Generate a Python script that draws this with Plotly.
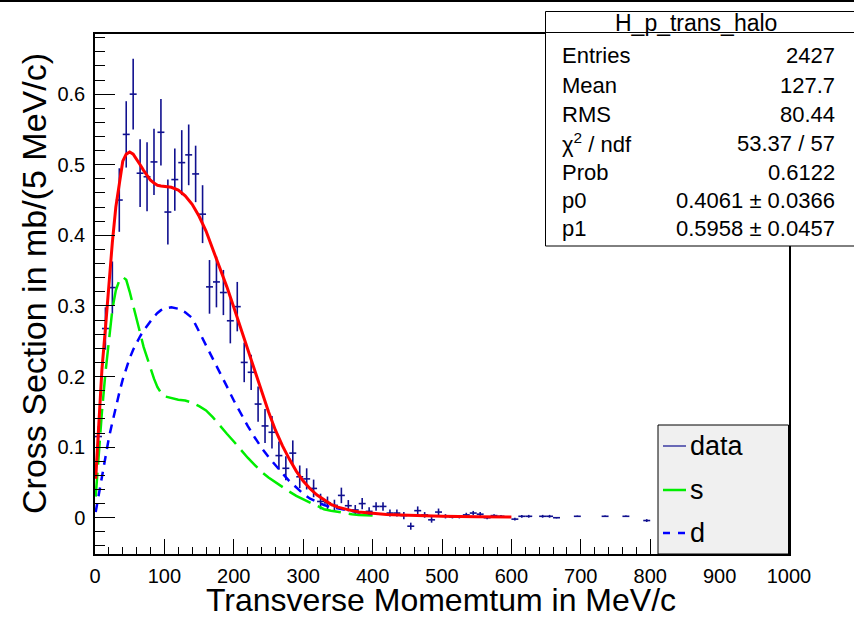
import plotly.graph_objects as go

# ---- histogram H_p_trans_halo (10 MeV/c bins, non-empty bins only) ----
bin_centers = [5, 15, 25, 35, 45, 55, 65, 75, 85, 95, 105, 115, 125, 135, 145,
               155, 165, 175, 185, 195, 205, 215, 225, 235, 245, 255, 265, 275,
               285, 295, 305, 315, 325, 335, 345, 355, 365, 375, 385, 395, 405,
               415, 425, 435, 445, 455, 465, 475, 485, 495, 505, 515, 525, 535,
               545, 555, 565, 575, 585, 605, 615, 625, 645, 655, 665, 695, 735,
               765, 795]
bin_values = [0.115, 0.268, 0.326, 0.450, 0.543, 0.600, 0.488, 0.483, 0.504,
              0.546, 0.433, 0.479, 0.503, 0.514, 0.487, 0.430, 0.327, 0.334,
              0.319, 0.279, 0.299, 0.220, 0.206, 0.161, 0.130, 0.121, 0.088,
              0.070, 0.0915, 0.058, 0.055, 0.0415, 0.023, 0.021, 0.0175, 0.0316,
              0.017, 0.011, 0.020, 0.009, 0.016, 0.016, 0.0066, 0.0066, 0.003,
              -0.012, 0.010, 0.004, -0.003, 0.008, 0.002, 0.001, 0.001, 0.004,
              0.0066, 0.005, 0.0, 0.003, 0.002, -0.002, 0.002, 0.002, 0.002,
              0.002, 0.0, 0.002, 0.002, 0.002, -0.004]
bin_errors = [0.015, 0.030, 0.037, 0.045, 0.047, 0.050, 0.048, 0.049, 0.047,
              0.047, 0.046, 0.044, 0.046, 0.043, 0.040, 0.041, 0.038, 0.036,
              0.032, 0.032, 0.035, 0.028, 0.025, 0.025, 0.024, 0.023, 0.020,
              0.017, 0.018, 0.016, 0.015, 0.0125, 0.011, 0.009, 0.008, 0.011,
              0.008, 0.007, 0.008, 0.006, 0.006, 0.006, 0.005, 0.005, 0.005,
              0.005, 0.006, 0.004, 0.004, 0.005, 0.003, 0.002, 0.002, 0.003,
              0.003, 0.003, 0.002, 0.002, 0.002, 0.002, 0.002, 0.002, 0.002,
              0.002, 0.001, 0.001, 0.001, 0.001, 0.002]
bin_half_width = [5] * len(bin_centers)

# ---- fit function (total) ----
fit_x = [1, 5, 10, 15, 20, 25, 30, 35, 40, 45, 50, 55, 60, 65, 70, 75, 80, 85,
         90, 95, 100, 110, 120, 130, 140, 150, 160, 170, 180, 190, 200, 210,
         220, 230, 240, 250, 260, 270, 280, 290, 300, 310, 320, 330, 340, 350,
         360, 370, 380, 400, 420, 440, 460, 480, 500, 550, 600]
fit_y = [0.055, 0.13, 0.21, 0.268, 0.33, 0.39, 0.44, 0.476, 0.505, 0.515,
         0.518, 0.515, 0.508, 0.500, 0.492, 0.484, 0.478, 0.474, 0.471, 0.470,
         0.469, 0.468, 0.464, 0.456, 0.444, 0.427, 0.406, 0.380, 0.352, 0.327,
         0.298, 0.268, 0.238, 0.207, 0.178, 0.150, 0.124, 0.102, 0.083, 0.066,
         0.052, 0.041, 0.032, 0.025, 0.019, 0.015, 0.012, 0.010, 0.008, 0.006,
         0.0045, 0.0037, 0.003, 0.0028, 0.002, 0.0015, 0.001]

# ---- components s and d ----
comp_x = [1, 5, 10, 15, 20, 25, 30, 35, 40, 45, 50, 55, 60, 65, 70, 75, 80, 85,
          90, 95, 100, 110, 120, 130, 140, 150, 160, 170, 180, 190, 200, 210,
          220, 230, 240, 250, 260, 270, 280, 290, 300, 310, 320, 330, 340, 350,
          360, 370, 380, 390, 400]
s_y = [0.03, 0.085, 0.15, 0.205, 0.255, 0.295, 0.322, 0.336, 0.341, 0.337,
       0.320, 0.302, 0.282, 0.262, 0.242, 0.226, 0.212, 0.197, 0.185, 0.177,
       0.172, 0.169, 0.167, 0.166, 0.163, 0.158, 0.152, 0.142, 0.130, 0.119,
       0.108, 0.096, 0.085, 0.075, 0.065, 0.057, 0.050, 0.044, 0.037, 0.031,
       0.026, 0.021, 0.016, 0.012, 0.010, 0.008, 0.0065, 0.005, 0.004, 0.0035,
       0.003]
d_y = [0.008, 0.03, 0.062, 0.09, 0.113, 0.135, 0.157, 0.177, 0.196, 0.212,
       0.226, 0.238, 0.248, 0.257, 0.265, 0.272, 0.279, 0.285, 0.290, 0.294,
       0.296, 0.298, 0.296, 0.291, 0.283, 0.264, 0.245, 0.226, 0.206, 0.186,
       0.166, 0.147, 0.130, 0.114, 0.099, 0.086, 0.074, 0.063, 0.052, 0.043,
       0.034, 0.027, 0.022, 0.018, 0.015, 0.013, 0.011, 0.009, 0.0075, 0.0065,
       0.0055]

stats_labels = ["Entries", "Mean", "RMS", "χ<sup>2</sup> / ndf", "Prob", "p0", "p1"]
stats_values = ["2427", "127.7", "80.44", "53.37 / 57", "0.6122",
                "0.4061 ± 0.0366", "0.5958 ± 0.0457"]
legend_labels = ["data", "s", "d"]
x_title = "Transverse Momemtum in MeV/c"
y_title = "Cross Section in mb/(5 MeV/c)"

FONT = "Liberation Sans, Arial, Helvetica, sans-serif"
DATA_COLOR = "#10108f"

# frame geometry in canvas pixels
W, H = 854, 617
L, R, T, B = 95, 789, 34, 554


def px(x):
    return (x - L) / (R - L)


def py(y):
    return (B - y) / (B - T)


fig = go.Figure()

fig.add_trace(go.Scatter(
    x=bin_centers, y=bin_values, mode="markers",
    marker=dict(size=1, color="rgba(0,0,0,0)"),
    error_y=dict(type="data", array=bin_errors, color=DATA_COLOR,
                 thickness=1.6, width=0),
    error_x=dict(type="data", array=bin_half_width, color=DATA_COLOR,
                 thickness=1.6, width=0),
    showlegend=False, hoverinfo="skip"))

fig.add_trace(go.Scatter(
    x=comp_x, y=s_y, mode="lines",
    line=dict(color="#00ee00", width=2.5, dash="24px,8px"),
    showlegend=False))
fig.add_trace(go.Scatter(
    x=comp_x, y=d_y, mode="lines",
    line=dict(color="#0000ff", width=2.5, dash="9px,7px"),
    showlegend=False))
fig.add_trace(go.Scatter(
    x=fit_x, y=fit_y, mode="lines", line=dict(color="#ff0000", width=3),
    showlegend=False))

shapes = []
annotations = []

# pad border line along the top
shapes.append(dict(type="line", xref="paper", yref="paper",
                   x0=px(-5), x1=px(W + 5), y0=py(1), y1=py(1),
                   line=dict(color="black", width=2)))

# axis titles
annotations.append(dict(xref="paper", yref="paper", x=px(441), y=py(600),
                        text=x_title, showarrow=False, xanchor="center",
                        yanchor="middle", borderpad=0,
                        font=dict(family=FONT, size=32, color="black")))
annotations.append(dict(xref="paper", yref="paper", x=px(34), y=py(284),
                        text=y_title, showarrow=False, textangle=-90,
                        xanchor="center", yanchor="middle",
                        font=dict(family=FONT, size=34, color="black")))

# statistics box
sb_l, sb_r, sb_t, sb_b, sb_sep = 545.5, 862, 11.5, 246, 32.5
shapes.append(dict(type="rect", xref="paper", yref="paper", layer="above",
                   x0=px(sb_l), x1=px(sb_r), y0=py(sb_b), y1=py(sb_t),
                   fillcolor="white", line=dict(color="black", width=1)))
shapes.append(dict(type="line", xref="paper", yref="paper", layer="above",
                   x0=px(sb_l), x1=px(sb_r), y0=py(sb_sep), y1=py(sb_sep),
                   line=dict(color="black", width=1)))
annotations.append(dict(xref="paper", yref="paper", x=px(696), y=py(23),
                        text="H_p_trans_halo", showarrow=False,
                        xanchor="center", yanchor="middle",
                        font=dict(family=FONT, size=23, color="black")))
row_y = [56, 85.5, 114.5, 143, 172.5, 200.5, 228]
for lab, val, yy in zip(stats_labels, stats_values, row_y):
    annotations.append(dict(xref="paper", yref="paper", x=px(560), y=py(yy),
                            text=lab, showarrow=False, xanchor="left",
                            yanchor="middle",
                            font=dict(family=FONT, size=22, color="black")))
    annotations.append(dict(xref="paper", yref="paper", x=px(837), y=py(yy),
                            text=val, showarrow=False, xanchor="right",
                            yanchor="middle",
                            font=dict(family=FONT, size=22, color="black")))

# legend box
lg_l, lg_r, lg_t, lg_b = 658, 788.5, 425, 554
shapes.append(dict(type="rect", xref="paper", yref="paper", layer="above",
                   x0=px(lg_l), x1=px(lg_r), y0=py(lg_b), y1=py(lg_t),
                   fillcolor="#f0f0f0", line=dict(color="black", width=1)))
legend_rows = [446, 490, 533]
legend_lines = [dict(color=DATA_COLOR, width=1.2),
                dict(color="#00ee00", width=2.5),
                dict(color="#0000ff", width=2.5, dash="7px,8px")]
for lab, yy, ln in zip(legend_labels, legend_rows, legend_lines):
    shapes.append(dict(type="line", xref="paper", yref="paper", layer="above",
                       x0=px(663), x1=px(686), y0=py(yy), y1=py(yy), line=ln))
    annotations.append(dict(xref="paper", yref="paper", x=px(688), y=py(yy),
                            text=lab, showarrow=False, xanchor="left",
                            yanchor="middle",
                            font=dict(family=FONT, size=27, color="black")))

fig.update_layout(
    width=W, height=H, autosize=False,
    margin=dict(l=L, r=W - R, t=T, b=H - B, pad=0, autoexpand=False),
    paper_bgcolor="white", plot_bgcolor="white",
    font=dict(family=FONT, color="black"),
    shapes=shapes, annotations=annotations,
    xaxis=dict(
        range=[0, 1000], tick0=0, dtick=100, ticks="inside", ticklen=15,
        tickwidth=1, tickcolor="black", showgrid=False, zeroline=False,
        showline=True, linecolor="black", linewidth=1.5, mirror=True,
        automargin=False,
        tickfont=dict(family=FONT, size=20, color="black"),
        ticklabelstandoff=3,
        minor=dict(ticks="inside", ticklen=7, dtick=20, tickcolor="black",
                   showgrid=False),
    ),
    yaxis=dict(
        range=[-0.0514, 0.6852], tick0=0, dtick=0.1, ticks="inside",
        ticklen=20, tickwidth=1, tickcolor="black", showgrid=False,
        zeroline=False, showline=True, linecolor="black", linewidth=1.5,
        mirror=True, automargin=False,
        tickfont=dict(family=FONT, size=20, color="black"),
        ticklabelstandoff=4,
        minor=dict(ticks="inside", ticklen=10, dtick=0.02, tickcolor="black",
                   showgrid=False),
    ),
)

fig.write_html("out.html")
